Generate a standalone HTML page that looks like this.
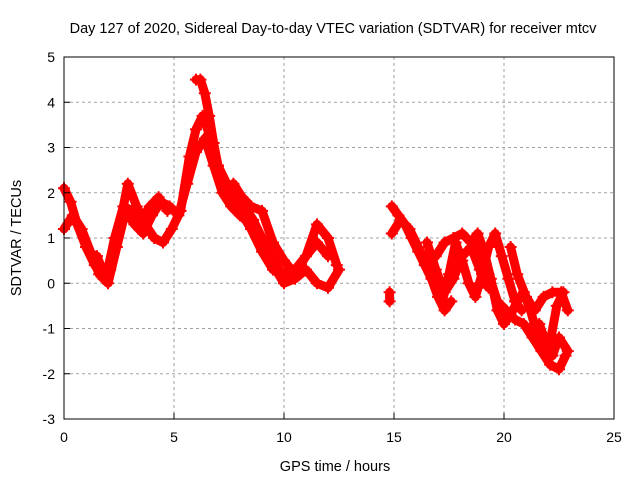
<!DOCTYPE html>
<html><head><meta charset="utf-8"><style>
body{margin:0;background:#fff}
svg{display:block;font-family:"Liberation Sans",sans-serif}
</style></head><body>
<svg id="c" width="640" height="480">
<text x="333" y="33" font-size="14.5" text-anchor="middle">Day 127 of 2020, Sidereal Day-to-day VTEC variation (SDTVAR) for receiver mtcv</text>
<text x="335" y="471" font-size="14.5" text-anchor="middle">GPS time / hours</text>
<text transform="translate(21,238) rotate(-90)" font-size="14.5" text-anchor="middle">SDTVAR / TECUs</text>
<g id="grid"></g><g id="data"></g><g id="axes"></g>
</svg>
<script>
const xTicks=[0,5,10,15,20,25];
const yTicks=[-3,-2,-1,0,1,2,3,4,5];
const t1=[0,0.3,0.6,1,1.4,1.8,2.1,2.5,2.9,3.3,3.7,4.1,4.5,4.9,5.3,5.7,6.0,6.3,6.6,7,7.5,8,8.5,9,9.5,10,10.5,11,11.5,12,12.4];
const v1=[2.1,1.8,1.3,0.8,0.4,0.1,0.3,1.2,2.2,1.7,1.3,1.0,0.9,1.2,1.6,2.8,3.4,3.7,3.3,2.6,2.0,1.6,1.2,0.7,0.3,0.2,0.3,0.6,1.3,1.0,0.4];
const t2=[0,0.4,0.8,1.2,1.6,2,2.4,2.8,3.2,3.6,4,4.4,4.8,5.2,5.6,6,6.4,6.8,7.2,7.6,8,8.5,9,9.5,10,10.5,11,11.5,12,12.5];
const v2=[1.2,1.5,1.2,0.7,0.2,0.0,0.8,1.6,1.3,1.1,1.5,1.8,1.7,1.5,2.2,2.9,3.2,2.6,2.0,1.7,1.5,1.3,0.9,0.4,0.0,0.1,0.3,0.0,-0.1,0.3];
const t3=[6,6.2,6.4,6.6,6.8,7,7.4,7.8,8.2,8.6,9,9.4,9.8];
const v3=[4.5,4.5,4.2,3.7,3.1,2.6,2.2,1.9,1.7,1.4,1.0,0.6,0.3];
const t4=[1.5,1.9,2.3,2.7,3.1,3.5,3.9,4.3,4.7];
const v4=[0.6,0.1,1.0,1.7,1.6,1.4,1.7,1.9,1.6];
const t5=[7.7,8.1,8.5,9,9.5,10,10.5,11,11.5,12];
const v5=[2.2,1.9,1.7,1.6,0.9,0.5,0.2,0.6,0.9,0.6];
const t6=[14.9,15.2,15.5,15.8,16.1,16.4,16.7,17,17.3,17.6];
const v6=[1.7,1.5,1.3,1.0,0.7,0.4,0.1,-0.3,-0.6,-0.4];
const t7=[14.9,15.3,15.7,16.1,16.5,16.9,17.3,17.7,18.1,18.5,18.9,19.3,19.7,20.1,20.5,20.9,21.3,21.7,22.1,22.5,22.8];
const v7=[1.1,1.4,1.2,0.8,0.4,0.6,0.9,1.0,1.1,0.9,0.7,0.2,-0.4,-0.6,-0.8,-0.9,-1.2,-1.5,-1.8,-1.9,-1.6];
const t8=[17.2,17.5,17.8,18.1,18.4,18.7,19,19.3,19.6,19.9,20.2,20.5,20.8];
const v8=[-0.4,0.2,0.9,0.5,0.0,-0.3,0.2,0.8,1.1,0.6,0.1,-0.4,-0.6];
const t9=[18.5,18.8,19.1,19.4,19.7,20,20.3,20.6,20.9,21.2,21.5,21.8,22.1,22.4,22.7];
const v9=[0.9,1.1,0.7,0.1,-0.6,-0.9,-0.7,-0.4,-0.2,-0.6,-1.1,-1.4,-1.3,-0.5,-0.2];
const t10=[20.3,20.6,21,21.4,21.8,22.2,22.6,22.9];
const v10=[0.8,0.2,-0.3,-0.6,-0.3,-0.2,-0.2,-0.6];
const t11=[14.8,14.8];
const v11=[-0.2,-0.4];
const t12=[16.5,16.9,17.3,17.7,18.1,18.5,18.9,19.3];
const v12=[0.9,0.3,-0.2,0.1,0.6,0.8,0.3,-0.1];
const t13=[21.6,21.9,22.2,22.5,22.9];
const v13=[-0.9,-1.3,-1.6,-1.2,-1.5];
const tracks=[[t1,v1],[t2,v2],[t3,v3],[t4,v4],[t5,v5],[t6,v6],[t7,v7],[t8,v8],[t9,v9],[t10,v10],[t11,v11],[t12,v12],[t13,v13]];

const L=64,R=614,T=57,B=419;
const X=t=>L+(t-0)/(25-0)*(R-L);
const Y=v=>B-(v+3)/(8)*(B-T);
const NS='http://www.w3.org/2000/svg';
function mk(tag,attrs,parent){const e=document.createElementNS(NS,tag);for(const k in attrs)e.setAttribute(k,attrs[k]);parent.appendChild(e);return e;}
const grid=document.getElementById('grid'),axes=document.getElementById('axes'),data=document.getElementById('data');
xTicks.forEach(t=>{
  if(t>0&&t<25){const g=mk('line',{x1:X(t),x2:X(t),y1:T,y2:B,stroke:'#a0a0a0','stroke-dasharray':'3,3'},grid);
  
  }
  const tk=mk('line',{x1:X(t),x2:X(t),y1:B,y2:B-6,stroke:'#000'},axes);
  
  
  const lb=mk('text',{x:X(t),y:B+23,'font-size':14,'text-anchor':'middle'},axes);lb.textContent=t;
  
  
});
yTicks.forEach(v=>{
  if(v>-3&&v<5){const g=mk('line',{x1:L,x2:R,y1:Y(v),y2:Y(v),stroke:'#a0a0a0','stroke-dasharray':'3,3'},grid);
  
  }
  const tk=mk('line',{x1:L,x2:L+6,y1:Y(v),y2:Y(v),stroke:'#000'},axes);
  
  
  const lb=mk('text',{x:L-9,y:Y(v)+5,'font-size':14,'text-anchor':'end'},axes);lb.textContent=v;
  
  
});
const fr=mk('rect',{x:L,y:T,width:R-L,height:B-T,fill:'none',stroke:'#000'},axes);


tracks.forEach(([ts,vs],i)=>{
  const pts=ts.map((t,j)=>X(t)+','+Y(vs[j])).join(' ');
  const pl=mk('polyline',{points:pts,fill:'none',stroke:'#ff0000','stroke-width':9,'stroke-linejoin':'round','stroke-linecap':'round'},data);
  
  
  ts.forEach((t,j)=>{
    const x=X(t),y=Y(vs[j]);
    const p=mk('path',{d:`M${x-6},${y}H${x+6}M${x},${y-6}V${y+6}`,stroke:'#ff0000','stroke-width':2},data);
    
    
  });
});
</script>
</body></html>
